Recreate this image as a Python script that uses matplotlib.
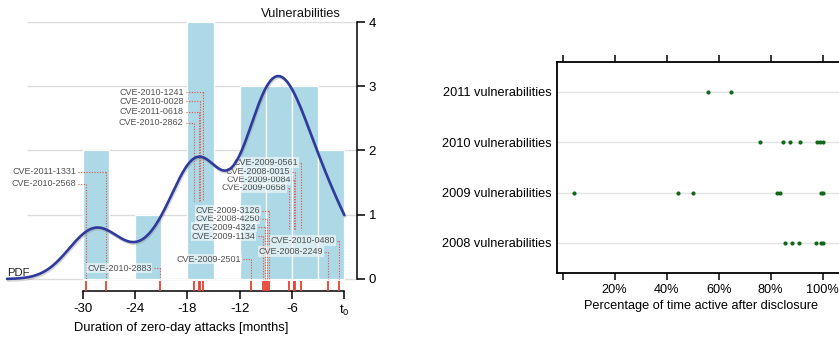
import numpy as np
import matplotlib
matplotlib.use("Agg")
import matplotlib.pyplot as plt
import matplotlib.patheffects as pe

plt.rcParams["font.family"] = ["Liberation Sans", "DejaVu Sans"]

# ---------------- data ----------------
# zero-day attack durations before disclosure (months, t0 = disclosure)
cve_ids = ["CVE-2010-2568", "CVE-2011-1331", "CVE-2010-2883", "CVE-2010-2862",
           "CVE-2011-0618", "CVE-2010-0028", "CVE-2010-1241", "CVE-2009-2501",
           "CVE-2009-1134", "CVE-2009-4324", "CVE-2008-4250", "CVE-2009-3126",
           "CVE-2009-0658", "CVE-2009-0084", "CVE-2008-0015", "CVE-2009-0561",
           "CVE-2008-2249", "CVE-2010-0480"]
durations = [-29.62, -27.33, -21.10, -17.24, -16.70, -16.51, -16.20, -10.70,
             -9.35, -9.15, -8.88, -8.65, -6.34, -5.77, -5.62, -5.00,
             -1.90, -0.61]

# share of time each exploit stayed active after disclosure (%)
years = ["2008 vulnerabilities", "2009 vulnerabilities",
         "2010 vulnerabilities", "2011 vulnerabilities"]
active_2008 = [85.4, 88.2, 90.9, 97.4, 99.5, 100.0]
active_2009 = [4.5, 44.2, 50.0, 82.6, 83.5, 99.3, 100.0]
active_2010 = [75.9, 84.8, 87.5, 91.4, 97.9, 99.0, 100.0]
active_2011 = [55.9, 64.6]
active = [active_2008, active_2009, active_2010, active_2011]

month_ticks = [-30, -24, -18, -12, -6, 0]
month_ticklabels = ["-30", "-24", "-18", "-12", "-6", r"$\mathregular{t_0}$"]
pct_ticks = [0, 20, 40, 60, 80, 100]
pct_ticklabels = ["", "20%", "40%", "60%", "80%", "100%"]

# label placement: (text right end [months], text height, leader stops at)
label_layout = {
    "CVE-2011-1331": (-30.77, 1.67, 0.0),
    "CVE-2010-2568": (-30.77, 1.48, 0.0),
    "CVE-2010-2883": (-22.09, 0.167, 0.0),
    "CVE-2010-1241": (-18.44, 2.906, 1.21),
    "CVE-2010-0028": (-18.44, 2.766, 1.21),
    "CVE-2011-0618": (-18.44, 2.60, 1.21),
    "CVE-2010-2862": (-18.44, 2.433, 1.21),
    "CVE-2009-0561": (-5.28, 1.81, 0.76),
    "CVE-2008-0015": (-6.23, 1.667, 0.76),
    "CVE-2009-0084": (-6.15, 1.545, 0.76),
    "CVE-2009-0658": (-6.69, 1.42, 0.76),
    "CVE-2009-3126": (-9.67, 1.063, 0.0),
    "CVE-2008-4250": (-9.70, 0.934, 0.0),
    "CVE-2009-4324": (-10.13, 0.805, 0.0),
    "CVE-2009-1134": (-10.20, 0.669, 0.0),
    "CVE-2009-2501": (-11.85, 0.307, 0.0),
    "CVE-2010-0480": (-1.07, 0.596, 0.0),
    "CVE-2008-2249": (-2.41, 0.425, 0.0),
}

BIN_WIDTH = 3
BANDWIDTH = 2.8

BAR = "#add8e6"
CURVE = "#2e3a9c"
RED = "#e8412f"
GREEN = "#13671a"
TEXT_GREY = "#505050"

fig = plt.figure(figsize=(8.39, 3.38), dpi=100)

# ---------------- left: durations histogram + density ----------------
ax = fig.add_axes([6 / 839, 47 / 338, 350.7 / 839, 269 / 338])
ax.set_xlim(-38.8, 1.42)
ax.set_ylim(-0.187, 4)

for lvl in range(5):
    ax.plot([-36.4, 1.42], [lvl, lvl], color="#dcdcdc", lw=1.0, zorder=0,
            solid_capstyle="butt")

bins = np.arange(-30, 0 + BIN_WIDTH, BIN_WIDTH)
ax.hist(durations, bins=bins, color=BAR, edgecolor="white", linewidth=0.9,
        zorder=1)

# density curve, scaled to counts per bin
d = np.asarray(durations)
grid = np.linspace(-38.7, 0, 500)
dens = np.exp(-0.5 * ((grid[:, None] - d[None, :]) / BANDWIDTH) ** 2).sum(1)
dens /= len(d) * BANDWIDTH * np.sqrt(2 * np.pi)
ax.plot(grid, dens * len(d) * BIN_WIDTH, color=CURVE, lw=1.9, zorder=5,
        solid_capstyle="round",
        path_effects=[pe.SimpleLineShadow(offset=(0.6, -1.2),
                                          shadow_color="#888888", alpha=0.35),
                      pe.Normal()])
ax.text(-38.7, 0.10, "PDF", fontsize=8.2, color="#222222", ha="left",
        va="center", zorder=6)

# labels with dotted leaders down to the rug
lead_style = dict(color=RED, lw=0.8, linestyle=(0, (1, 1.4)), alpha=0.9,
                  zorder=2)
for cid, dur in zip(cve_ids, durations):
    tx, ty, stop = label_layout[cid]
    ax.plot([tx + 0.25, dur], [ty, ty], **lead_style)
    ax.plot([dur, dur], [ty, stop], **lead_style)
    ax.text(tx, ty, cid, fontsize=6.5, color=TEXT_GREY, ha="right",
            va="center", zorder=3,
            bbox=dict(boxstyle="square,pad=0.08", fc="white", ec="none",
                      alpha=0.55))

# rug of attack durations
ax.vlines(durations, -0.187, -0.035, color=RED, lw=1.3, zorder=4)

for s in ["top", "left"]:
    ax.spines[s].set_visible(False)
ax.spines["bottom"].set_bounds(-30, 0)
ax.spines["right"].set_bounds(0, 4)
for s in ["bottom", "right"]:
    ax.spines[s].set_linewidth(1.1)
ax.set_xticks(month_ticks)
ax.set_xticklabels(month_ticklabels, fontsize=9.5)
ax.yaxis.tick_right()
ax.set_yticks([0, 1, 2, 3, 4])
ax.set_yticklabels(["0", "1", "2", "3", "4"], fontsize=9.5)
ax.tick_params(axis="both", direction="out", length=5.5, width=1.1, pad=3)
ax.set_xlabel("Duration of zero-day attacks [months]", fontsize=9.3,
              labelpad=3)
ax.text(-0.45, 4.12, "Vulnerabilities", fontsize=9.3, ha="right",
        va="center", color="#111111")

# ---------------- right: activity after disclosure ----------------
ax2 = fig.add_axes([557 / 839, 65 / 338, 288 / 839, 211.3 / 338])
ax2.set_xlim(-2.19, 108.6)
ax2.set_ylim(0.4, 4.6)
ypos = np.arange(1, len(years) + 1)
for yv in ypos:
    ax2.axhline(yv, color="#e3e3e3", lw=1.0, zorder=0)
for yv, vals in zip(ypos, active):
    ax2.scatter(vals, [yv] * len(vals), s=9, color=GREEN, zorder=3,
                linewidths=0)
ax2.set_yticks(ypos)
ax2.set_yticklabels(years, fontsize=9.2)
ax2.tick_params(axis="y", length=0, pad=4)
ax2.set_xticks(pct_ticks)
ax2.set_xticklabels(pct_ticklabels, fontsize=9.2)
ax2.tick_params(axis="x", direction="out", length=5, width=1.1,
                top=True, pad=3)
ax2.spines["right"].set_visible(False)
for s in ["left", "top", "bottom"]:
    ax2.spines[s].set_linewidth(1.3)
ax2.set_xlabel("Percentage of time active after disclosure", fontsize=9.2,
               labelpad=3)

fig.savefig("out.png", dpi=100)
